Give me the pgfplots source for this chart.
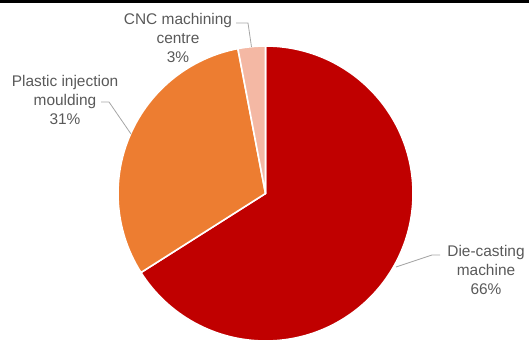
\documentclass[border=0pt]{standalone}
\usepackage{fontspec}
\setmainfont{Liberation Sans}
\usepackage{pgfplots}
\usepackage{pgfplotstable}
\pgfplotsset{compat=1.18}
\definecolor{diec}{HTML}{C00000}
\definecolor{plac}{HTML}{ED7D31}
\definecolor{cncc}{HTML}{F4B8A4}
\definecolor{lbl}{HTML}{595959}
\definecolor{lead}{HTML}{A6A6A6}
\pgfplotstableread{
name value col
Die 66 diec
Plastic 31 plac
CNC 3 cncc
}\piedata
\begin{document}
\begin{tikzpicture}
\begin{axis}[hide axis, scale only axis, width=529bp, height=341bp,
  xmin=0, xmax=529, ymin=0, ymax=341, y dir=reverse, clip=false]
\def\cum{0}
\pgfplotsforeachungrouped \i in {0,1,2}{%
  \pgfplotstablegetelem{\i}{value}\of\piedata
  \let\v\pgfplotsretval
  \pgfmathsetmacro\sa{90-3.6*\cum}
  \pgfmathsetmacro\cum{\cum+\v}
  \pgfmathsetmacro\ea{90-3.6*\cum}
  \pgfplotstablegetelem{\i}{col}\of\piedata
  \edef\tmp{\noexpand\fill[\pgfplotsretval, draw=white, line width=1.6bp, line join=round]
    (axis cs:265.5,193.5) -- ++(\sa:147.5bp) arc[start angle=\sa, end angle=\ea, radius=147.5bp] -- cycle;}
  \tmp
}
\begin{scope}[every node/.style={text=lbl, align=center, font=\fontsize{15.5}{19.5}\selectfont, inner sep=0pt}]
\node at (axis cs:178,38) {CNC machining\\centre\\3\%};
\node at (axis cs:65,100) {Plastic injection\\moulding\\31\%};
\node at (axis cs:486,270) {Die-casting\\machine\\66\%};
\end{scope}
\draw[lead, line width=0.8bp] (axis cs:236,23) -- (axis cs:248,23) -- (axis cs:251.5,47);
\draw[lead, line width=0.8bp] (axis cs:101,102) -- (axis cs:109,102) -- (axis cs:131,134);
\draw[lead, line width=0.8bp] (axis cs:440,255) -- (axis cs:432,255) -- (axis cs:396,267);
\end{axis}
\fill[black] (0,337.5bp) rectangle (529bp,341bp);
\pgfresetboundingbox
\path (0,0) rectangle (529bp,341bp);
\end{tikzpicture}
\end{document}
